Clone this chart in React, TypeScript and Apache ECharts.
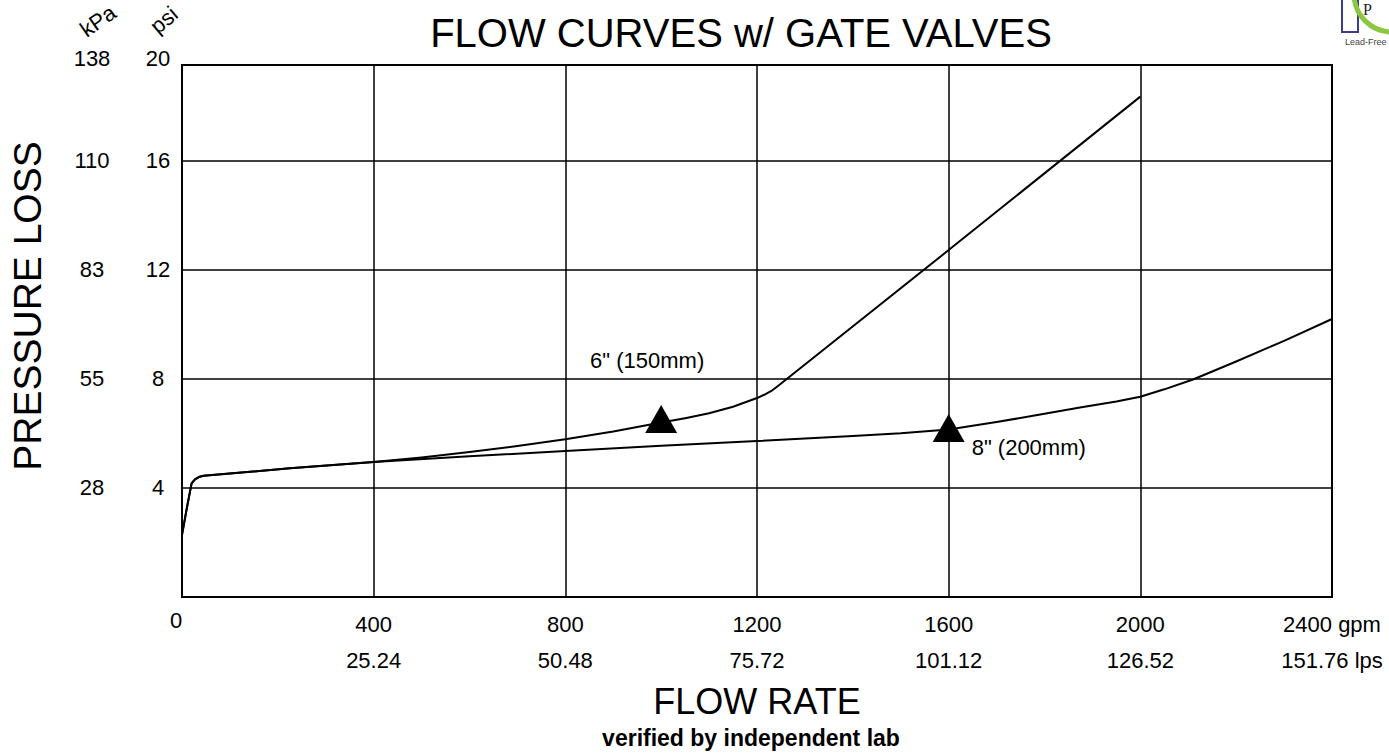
import React, { useEffect, useRef } from 'react';
import * as echarts from 'echarts';

// ---- data ----
const xTicks = [0, 400, 800, 1200, 1600, 2000, 2400];
const lpsLabels = ['', '25.24', '50.48', '75.72', '101.12', '126.52', '151.76'];
const flowUnit = 'gpm';
const lpsUnit = 'lps';
const psiTicks = [0, 4, 8, 12, 16, 20];
const kpaLabels = ['', '28', '55', '83', '110', '138'];

// 6" (150mm) gate valve curve: flow (gpm) -> pressure loss (psi)
const flow6 = [0, 10, 20, 27, 35, 45, 225, 400, 500, 600, 700, 800, 900, 1000, 1050, 1100, 1150, 1200, 1215, 1230, 1245, 1600, 2000];
const psi6 = [2.28, 3.25, 4.17, 4.32, 4.4, 4.45, 4.72, 4.95, 5.12, 5.32, 5.54, 5.79, 6.07, 6.4, 6.56, 6.74, 6.98, 7.3, 7.42, 7.56, 7.76, 12.73, 18.36];

// 8" (200mm) gate valve curve
const flow8 = [0, 10, 20, 27, 35, 45, 225, 400, 600, 800, 1000, 1200, 1400, 1500, 1600, 1700, 1800, 1874, 1950, 2000, 2050, 2110, 2200, 2300, 2400];
const psi8 = [2.28, 3.25, 4.17, 4.32, 4.4, 4.45, 4.72, 4.95, 5.16, 5.36, 5.55, 5.72, 5.91, 6.01, 6.15, 6.42, 6.72, 6.95, 7.17, 7.35, 7.62, 7.98, 8.64, 9.4, 10.2];

// triangle markers and their labels
const markerFlow = [1000, 1600];
const markerPsi = [6.53, 6.2];
const markerLabels = ['6" (150mm)', '8" (200mm)'];

const titleText = 'FLOW CURVES w/ GATE VALVES';
const yName = 'PRESSURE LOSS';
const xName = 'FLOW RATE';
const footnote = 'verified by independent lab';

const yMax = 19.52; // the plotted frame stops just under the "20" tick

export default function App() {
  const ref = useRef<HTMLDivElement>(null);
  useEffect(() => {
    const el = ref.current;
    if (!el) return;
    const chart = echarts.init(el, null, { renderer: 'svg' });
    const font = '"Liberation Sans", Arial, Helvetica, sans-serif';
    const idxOf = (v: number) => (v > 19 ? psiTicks.length - 1 : Math.round(v / 4));

    const s6 = flow6.map((f, i) => [f, psi6[i]]);
    const s8 = flow8.map((f, i) => [f, psi8[i]]);

    const centered = { align: 'center', verticalAlign: 'middle', textAlign: 'center', textVerticalAlign: 'middle' };

    chart.setOption({
      animation: false,
      backgroundColor: '#ffffff',
      textStyle: { fontFamily: font, color: '#000' },
      grid: {
        left: 182,
        right: 57,
        top: 65,
        bottom: 156,
        show: true,
        borderColor: '#000',
        borderWidth: 2,
        backgroundColor: 'transparent',
      },
      xAxis: {
        type: 'value',
        min: 0,
        max: 2400,
        interval: 400,
        axisLine: { show: false },
        axisTick: { show: false },
        splitLine: { show: true, lineStyle: { color: '#000', width: 1.5 } },
        axisLabel: {
          margin: 9,
          fontSize: 22,
          lineHeight: 36,
          color: '#000',
          fontFamily: font,
          showMinLabel: true,
          showMaxLabel: true,
          formatter: (v: number) => {
            const i = xTicks.indexOf(v);
            if (i === 0) return '{z|' + v + '}';
            const last = i === xTicks.length - 1;
            return (last ? `${v} ${flowUnit}` : `${v}`) + '\n' + lpsLabels[i] + (last ? ` ${lpsUnit}` : '');
          },
          rich: {
            z: { fontSize: 22, fontFamily: font, color: '#000', padding: [0, 12, 8, 0] },
          },
        },
      },
      yAxis: [
        {
          type: 'value',
          min: 0,
          max: yMax,
          interval: 4,
          position: 'left',
          axisLine: { show: false },
          axisTick: { show: false },
          splitLine: { show: true, lineStyle: { color: '#000', width: 1.5 } },
          axisLabel: {
            margin: 24,
            align: 'center',
            fontSize: 22,
            color: '#000',
            fontFamily: font,
            showMaxLabel: true,
            formatter: (v: number) => {
              const i = idxOf(v);
              if (i === 0) return '';
              if (i === psiTicks.length - 1) return '{top|' + psiTicks[i] + '}';
              return String(psiTicks[i]);
            },
            rich: { top: { fontSize: 22, fontFamily: font, color: '#000', padding: [0, 0, 14, 0] } },
          },
        },
        {
          type: 'value',
          min: 0,
          max: yMax,
          interval: 4,
          position: 'left',
          axisLine: { show: false },
          axisTick: { show: false },
          splitLine: { show: false },
          axisLabel: {
            margin: 90,
            align: 'center',
            fontSize: 22,
            color: '#000',
            fontFamily: font,
            showMaxLabel: true,
            formatter: (v: number) => {
              const i = idxOf(v);
              if (i === 0) return '';
              if (i === kpaLabels.length - 1) return '{top|' + kpaLabels[i] + '}';
              return kpaLabels[i];
            },
            rich: { top: { fontSize: 22, fontFamily: font, color: '#000', padding: [0, 0, 14, 0] } },
          },
        },
      ],
      series: [
        {
          name: markerLabels[0],
          type: 'line',
          data: s6,
          symbol: 'none',
          lineStyle: { color: '#000', width: 2, join: 'round' },
          z: 3,
        },
        {
          name: markerLabels[1],
          type: 'line',
          data: s8,
          symbol: 'none',
          lineStyle: { color: '#000', width: 2, join: 'round' },
          z: 3,
        },
        {
          type: 'scatter',
          symbol: 'triangle',
          symbolSize: [32, 28],
          itemStyle: { color: '#000', opacity: 1 },
          z: 4,
          data: markerFlow.map((f, i) => ({
            value: [f, markerPsi[i]],
            itemStyle: { color: '#000', opacity: 1 },
            label: {
              show: true,
              formatter: markerLabels[i],
              fontSize: 22,
              fontFamily: font,
              color: '#000',
              opacity: 1,
              ...(i === 0
                ? { position: 'top', distance: 5, offset: [-14, -29] }
                : { position: 'right', distance: 5, offset: [2, 19] }),
            },
          })),
        },
      ],
      graphic: [
        {
          type: 'text',
          x: 741,
          y: 33,
          style: { text: titleText, fontSize: 40, fontFamily: font, fill: '#000', ...centered },
        },
        {
          type: 'text',
          x: 27,
          y: 306,
          rotation: Math.PI / 2,
          style: { text: yName, fontSize: 39, fontFamily: font, fill: '#000', ...centered },
        },
        {
          type: 'text',
          x: 757,
          y: 701,
          style: { text: xName, fontSize: 36, fontFamily: font, fill: '#000', ...centered },
        },
        {
          type: 'text',
          x: 751,
          y: 738,
          style: { text: footnote, fontSize: 23, fontWeight: 'bold', fontFamily: font, fill: '#000', ...centered },
        },
        {
          type: 'text',
          x: 98,
          y: 21,
          rotation: (35 * Math.PI) / 180,
          style: { text: 'kPa', fontSize: 22, fontFamily: font, fill: '#000', ...centered },
        },
        {
          type: 'text',
          x: 164,
          y: 20,
          rotation: (40 * Math.PI) / 180,
          style: { text: 'psi', fontSize: 22, fontFamily: font, fill: '#000', ...centered },
        },
        // partially visible logo in the top-right corner
        {
          type: 'rect',
          shape: { x: 1342, y: -4, width: 16, height: 36 },
          style: { fill: 'none', stroke: '#3d3b8e', lineWidth: 2 },
        },
        {
          type: 'arc',
          shape: { cx: 1392, cy: -6, r: 38, startAngle: Math.PI / 2, endAngle: Math.PI, clockwise: true },
          style: { fill: 'none', stroke: '#8dc63f', lineWidth: 5 },
        },
        {
          type: 'text',
          x: 1363,
          y: 1,
          style: { text: 'P', fontSize: 16, fontFamily: '"Liberation Serif", serif', fill: '#222' },
        },
        {
          type: 'text',
          x: 1345,
          y: 37,
          style: { text: 'Lead-Free', fontSize: 9, fontFamily: font, fill: '#444' },
        },
      ],
    });
    return () => chart.dispose();
  }, []);

  return (
    <div
      ref={ref}
      style={{ position: 'fixed', left: 0, top: 0, width: 1389, height: 753, background: '#fff' }}
    />
  );
}
